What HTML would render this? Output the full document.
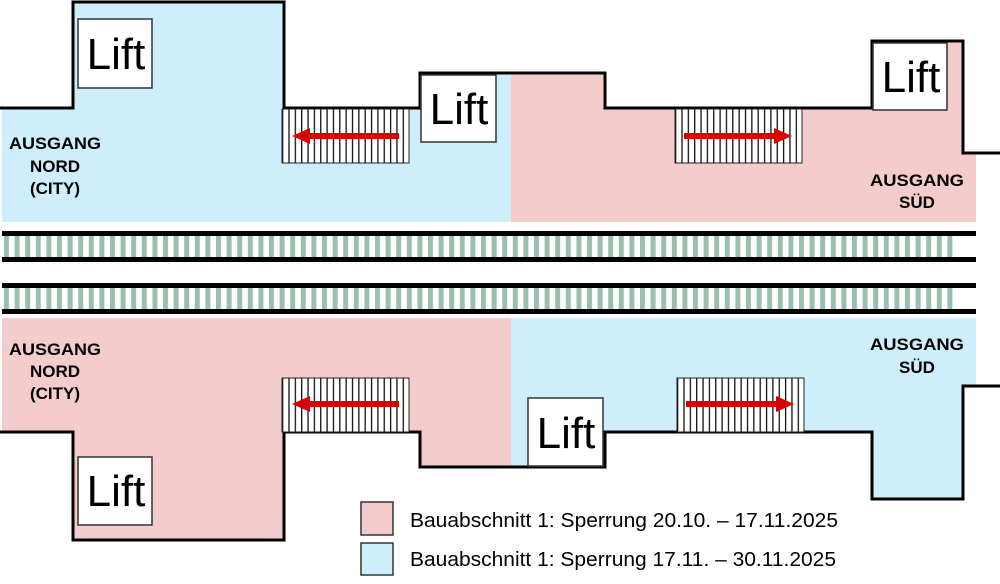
<!DOCTYPE html>
<html><head><meta charset="utf-8"><style>
html,body{margin:0;padding:0;background:#fff;width:1000px;height:584px;overflow:hidden}
svg text{font-family:"Liberation Sans",sans-serif}
</style></head><body>
<svg width="1000" height="584" viewBox="0 0 1000 584" xmlns="http://www.w3.org/2000/svg">
<defs>
<pattern id="ties" x="4" y="0" width="10.6" height="10" patternUnits="userSpaceOnUse">
<rect x="0" y="0" width="5" height="10" fill="#9bbfae"/>
</pattern>
<pattern id="stair" x="282" y="0" width="6.35" height="10" patternUnits="userSpaceOnUse">
<rect x="0" y="0" width="1.3" height="10" fill="#111"/>
</pattern>
<pattern id="stair2" x="675" y="0" width="6.35" height="10" patternUnits="userSpaceOnUse">
<rect x="0" y="0" width="1.3" height="10" fill="#111"/>
</pattern>
<pattern id="stair3" x="677" y="0" width="6.35" height="10" patternUnits="userSpaceOnUse">
<rect x="0" y="0" width="1.3" height="10" fill="#111"/>
</pattern>
</defs>
<polygon points="2,108 73,108 73,2 284,2 284,108 420,108 420,73 511,73 511,222 2,222" fill="#cfeefc"/>
<polygon points="511,73 605,73 605,108 872,108 872,41 963,41 963,153 976,153 976,222 511,222" fill="#f5cccc"/>
<polyline points="0,108 73,108 73,2 284,2 284,108 420,108 420,73 605,73 605,108 872,108 872,41 963,41 963,153 1000,153" fill="none" stroke="#000" stroke-width="3"/>
<polygon points="2,318 511,318 511,467 420,467 420,432 284,432 284,540 73,540 73,432 2,432" fill="#f5cccc"/>
<polygon points="511,318 976,318 976,386 963,386 963,499 872,499 872,432 605,432 605,467 511,467" fill="#cfeefc"/>
<polyline points="0,432 73,432 73,540 284,540 284,432 420,432 420,467 605,467 605,432 872,432 872,499 963,499 963,386 1000,386" fill="none" stroke="#000" stroke-width="3"/>
<rect x="2" y="236" width="952" height="21" fill="url(#ties)"/>
<rect x="2" y="288" width="952" height="21" fill="url(#ties)"/>
<rect x="2" y="231" width="974" height="5" fill="#000"/>
<rect x="2" y="257" width="974" height="5" fill="#000"/>
<rect x="2" y="283" width="974" height="5" fill="#000"/>
<rect x="2" y="309" width="974" height="5" fill="#000"/>
<g stroke="#222" stroke-width="1">
<rect x="282" y="109" width="127" height="54" fill="#fff"/>
<rect x="282" y="109" width="127" height="54" fill="url(#stair)"/>
<rect x="675" y="109" width="127" height="54" fill="#fff"/>
<rect x="675" y="109" width="127" height="54" fill="url(#stair2)"/>
<rect x="282" y="378" width="127" height="54" fill="#fff"/>
<rect x="282" y="378" width="127" height="54" fill="url(#stair)"/>
<rect x="677" y="378" width="127" height="54" fill="#fff"/>
<rect x="677" y="378" width="127" height="54" fill="url(#stair3)"/>
</g>
<g fill="#d90000">
<rect x="307" y="133" width="92" height="6"/><polygon points="292,136 310,128 310,144"/>
<rect x="684" y="133" width="92" height="6"/><polygon points="792,136 774,128 774,144"/>
<rect x="307" y="401" width="92" height="6"/><polygon points="292,404 310,396 310,412"/>
<rect x="686" y="401" width="92" height="6"/><polygon points="794,404 776,396 776,412"/>
</g>
<g fill="#fff" stroke="#333" stroke-width="1.5">
<rect x="78" y="19" width="74" height="69"/>
<rect x="421" y="75" width="75" height="67"/>
<rect x="873" y="43" width="74" height="67"/>
<rect x="78" y="457" width="74" height="68"/>
<rect x="528" y="398" width="75" height="68"/>
</g>
<g font-size="44" fill="#000" text-anchor="middle">
<text x="116" y="69">Lift</text>
<text x="459" y="124">Lift</text>
<text x="911" y="92">Lift</text>
<text x="116" y="506">Lift</text>
<text x="566" y="448">Lift</text>
</g>
<g font-size="17" font-weight="bold" fill="#000" text-anchor="middle">
<text x="55" y="149" textLength="92" lengthAdjust="spacingAndGlyphs">AUSGANG</text><text x="55" y="172">NORD</text><text x="55" y="194">(CITY)</text>
<text x="917" y="186" textLength="94" lengthAdjust="spacingAndGlyphs">AUSGANG</text><text x="917" y="208">SÜD</text>
<text x="55" y="355" textLength="92" lengthAdjust="spacingAndGlyphs">AUSGANG</text><text x="55" y="377">NORD</text><text x="55" y="399">(CITY)</text>
<text x="917" y="350" textLength="94" lengthAdjust="spacingAndGlyphs">AUSGANG</text><text x="917" y="373">SÜD</text>
</g>
<rect x="361" y="502" width="32" height="33" fill="#f5cccc" stroke="#333" stroke-width="1.5"/>
<rect x="361" y="543" width="32" height="32" fill="#cfeefc" stroke="#333" stroke-width="1.5"/>
<g font-size="20" fill="#000">
<text x="410" y="527" textLength="428" lengthAdjust="spacingAndGlyphs">Bauabschnitt 1: Sperrung 20.10. – 17.11.2025</text>
<text x="410" y="566" textLength="426" lengthAdjust="spacingAndGlyphs">Bauabschnitt 1: Sperrung 17.11. – 30.11.2025</text>
</g>
</svg>
</body></html>
